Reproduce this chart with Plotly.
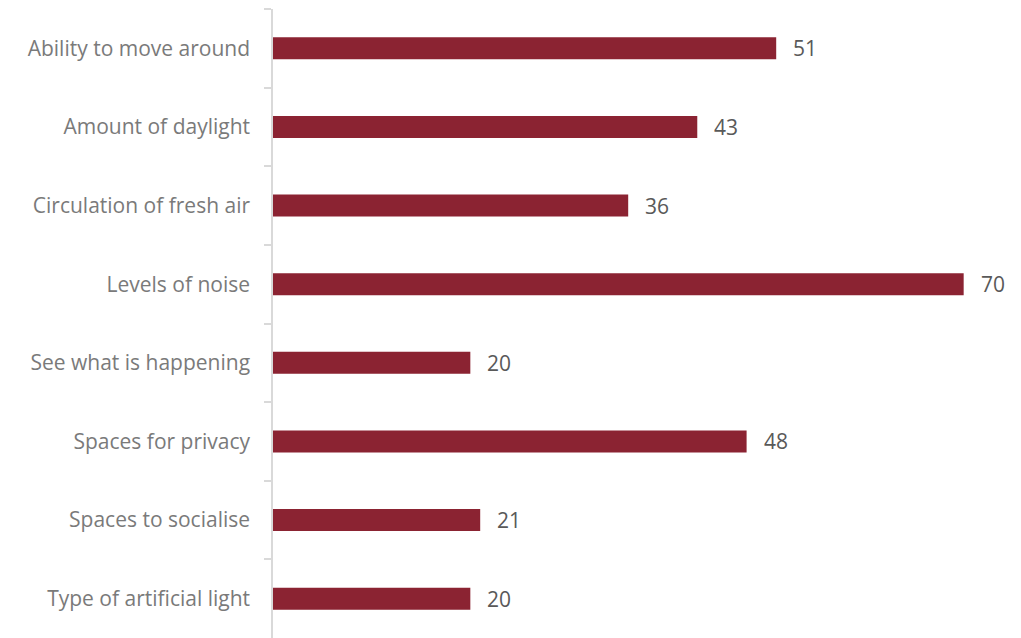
import plotly.graph_objects as go

categories = [
    "Ability to move around",
    "Amount of daylight",
    "Circulation of fresh air",
    "Levels of noise",
    "See what is happening",
    "Spaces for privacy",
    "Spaces to socialise",
    "Type of artificial light",
]
values = [51, 43, 36, 70, 20, 48, 21, 20]

bar_color = "#8B2332"
label_color = "#7a7a7a"
value_color = "#595959"
font_family = "'Open Sans', sans-serif"

fig = go.Figure()
fig.add_trace(go.Bar(
    x=values,
    y=categories,
    orientation="h",
    marker=dict(color=bar_color, line=dict(width=0)),
    width=0.28,
    hoverinfo="skip",
))

for c, v in zip(categories, values):
    fig.add_annotation(
        x=v, y=c, text=str(v), showarrow=False,
        xanchor="left", xshift=15,
        font=dict(size=21, color=value_color, family=font_family),
    )

fig.update_layout(
    width=1013, height=630,
    margin=dict(l=265, r=8, t=1, b=0),
    plot_bgcolor="white", paper_bgcolor="white",
    showlegend=False,
    xaxis=dict(range=[0, 75], visible=False, showgrid=False, zeroline=False),
    yaxis=dict(
        autorange="reversed",
        showline=True, linecolor="#d9d9d9", linewidth=1.5,
        ticks="outside", ticklen=7, tickcolor="#d9d9d9", tickwidth=1.5,
        tickson="boundaries",
        ticklabelstandoff=17,
        tickfont=dict(size=21, color=label_color, family=font_family),
        showgrid=False,
        automargin=False,
    ),
)

fig.write_html("out.html")
